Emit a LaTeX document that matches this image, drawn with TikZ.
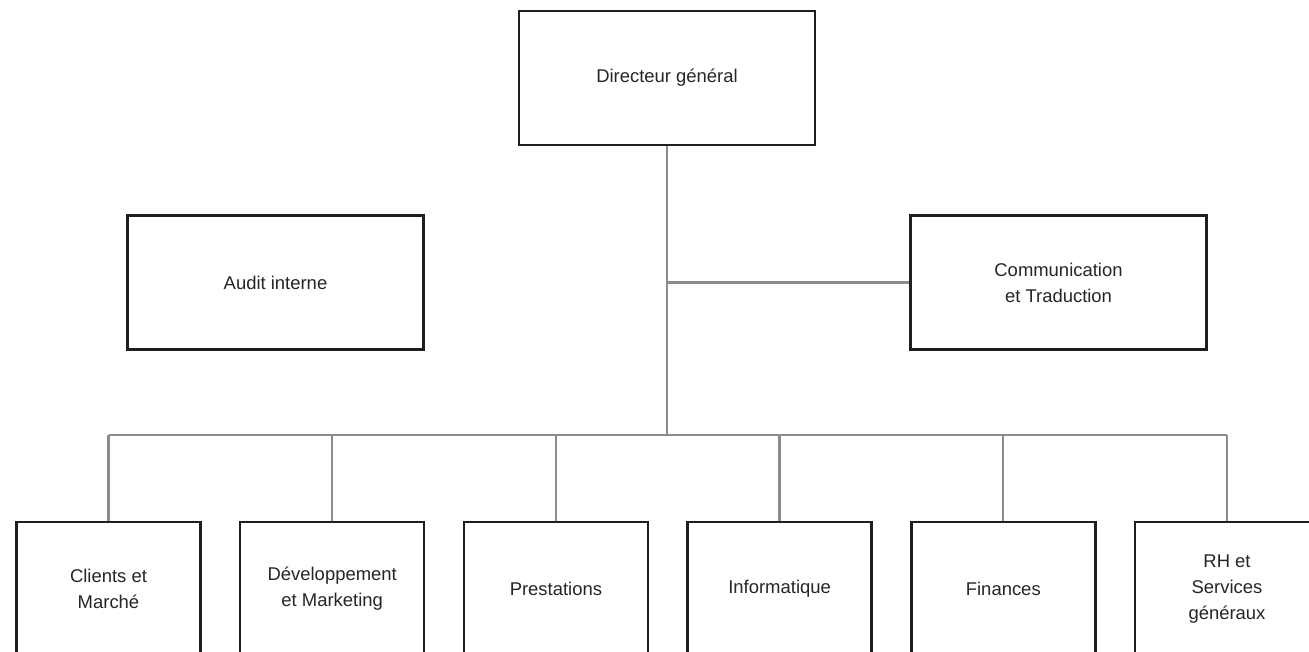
\documentclass[tikz,border=0pt]{standalone}
\usepackage{fontspec}
\setmainfont{Liberation Sans}
\usepackage{tikz}

\begin{document}
\begin{tikzpicture}[x=0.02cm, y=-0.02cm,
    unit/.style={draw=black!88, line width=1.4pt, fill=white, align=center,
        inner sep=0pt, text=black!85, font=\fontsize{10.5}{14.7}\selectfont},
    topunit/.style={unit, minimum width=5.92cm, minimum height=2.68cm},
    dept/.style={unit, minimum width=3.68cm, minimum height=2.68cm},
    link/.style={draw=black!45, line width=1.3pt}]
            \clip (0,0) rectangle (1309,652);
            \node[topunit] (dg) at (667,78) {Directeur général};
            \node[topunit] (audit) at (275.5,282.5) {Audit interne};
            \node[topunit] (comm) at (1058.5,282.5) {Communication\\et Traduction};
            \coordinate (bus) at (667,435);
            \foreach \name [count=\i] in {Clients et\\Marché, Développement\\et Marketing,
                    Prestations, Informatique, Finances, RH et\\Services\\généraux}
                \node[dept] (b\i) at ({108.5+(\i-1)*223.7},589) {\name};
            \draw[link] (dg.south) -- (bus);
            \draw[link] (dg.south |- comm.west) -- (comm.west);
            \draw[link] (b1.north |- bus) -- (b6.north |- bus);
            \foreach \i in {1,...,6}
                \draw[link] (b\i.north) -- (b\i.north |- bus);
        \end{tikzpicture}
\end{document}
